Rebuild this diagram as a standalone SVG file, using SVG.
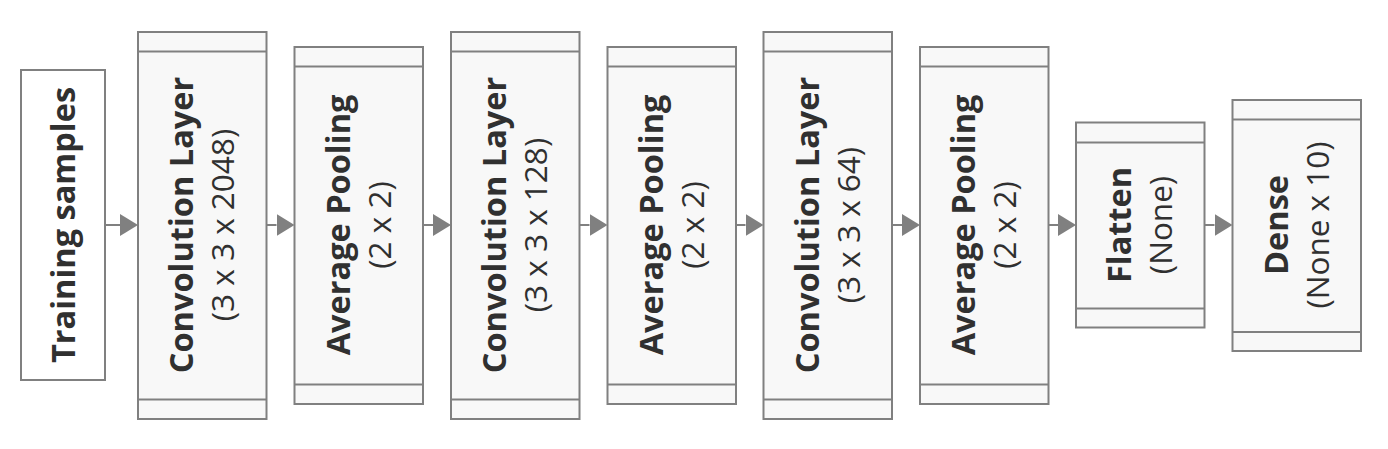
<svg xmlns="http://www.w3.org/2000/svg" width="1388" height="449" viewBox="0 0 1388 449">
<style>
.box{fill:#f8f8f8;stroke:#808080;stroke-width:2}
.plain{fill:#ffffff;stroke:#808080;stroke-width:2}
.sep{stroke:#808080;stroke-width:2;fill:none}
.conn{stroke:#808080;stroke-width:2;fill:none}
.b{font-family:"Open Sans","Noto Sans",sans-serif;font-weight:bold;font-size:32.5px;fill:#303030;text-anchor:middle}
.r{font-family:"Open Sans","Noto Sans",sans-serif;font-size:31.5px;fill:#303030;text-anchor:middle}
</style>
<defs>
<marker id="ah" markerUnits="userSpaceOnUse" markerWidth="18" markerHeight="22" viewBox="0 0 18 22" refX="0" refY="11" orient="auto">
<path d="M0,0 L18,11 L0,22 Z" fill="#808080"/>
</marker>
</defs>
<rect width="1388" height="449" fill="#ffffff"/>
<g id="connectors">
<path class="conn" d="M105,225 H120" marker-end="url(#ah)"/>
<path class="conn" d="M266.5,225 H276.5" marker-end="url(#ah)"/>
<path class="conn" d="M423,225 H433" marker-end="url(#ah)"/>
<path class="conn" d="M579.5,225 H589.5" marker-end="url(#ah)"/>
<path class="conn" d="M736,225 H745.5" marker-end="url(#ah)"/>
<path class="conn" d="M892,225 H902" marker-end="url(#ah)"/>
<path class="conn" d="M1048.5,225 H1058" marker-end="url(#ah)"/>
<path class="conn" d="M1204.5,225 H1214.5" marker-end="url(#ah)"/>
</g>
<g id="training">
<rect class="plain" x="21" y="70" width="84" height="310"/>
<text class="b" transform="translate(63,225) rotate(-90)" y="11.5">Training samples</text>
</g>
<g id="conv1">
<rect class="box" x="138" y="32" width="128.5" height="387"/>
<path class="sep" d="M138,51.5 H266.5 M138,399.5 H266.5"/>
<g transform="translate(202.3,225) rotate(-90)">
<text class="b" y="-9">Convolution Layer</text>
<text class="r" y="32">(3 x 3 x 2048)</text>
</g>
</g>
<g id="pool1">
<rect class="box" x="294.5" y="47" width="128.5" height="357"/>
<path class="sep" d="M294.5,66.5 H423 M294.5,384.5 H423"/>
<g transform="translate(358.8,225) rotate(-90)">
<text class="b" y="-9">Average Pooling</text>
<text class="r" y="32">(2 x 2)</text>
</g>
</g>
<g id="conv2">
<rect class="box" x="451" y="32" width="128.5" height="387"/>
<path class="sep" d="M451,51.5 H579.5 M451,399.5 H579.5"/>
<g transform="translate(515.3,225) rotate(-90)">
<text class="b" y="-9">Convolution Layer</text>
<text class="r" y="32">(3 x 3 x 128)</text>
</g>
</g>
<g id="pool2">
<rect class="box" x="607.5" y="47" width="128.5" height="357"/>
<path class="sep" d="M607.5,66.5 H736 M607.5,384.5 H736"/>
<g transform="translate(671.8,225) rotate(-90)">
<text class="b" y="-9">Average Pooling</text>
<text class="r" y="32">(2 x 2)</text>
</g>
</g>
<g id="conv3">
<rect class="box" x="763.5" y="32" width="128.5" height="387"/>
<path class="sep" d="M763.5,51.5 H892 M763.5,399.5 H892"/>
<g transform="translate(827.8,225) rotate(-90)">
<text class="b" y="-9">Convolution Layer</text>
<text class="r" y="32">(3 x 3 x 64)</text>
</g>
</g>
<g id="pool3">
<rect class="box" x="920" y="47" width="128.5" height="357"/>
<path class="sep" d="M920,66.5 H1048.5 M920,384.5 H1048.5"/>
<g transform="translate(984.3,225) rotate(-90)">
<text class="b" y="-9">Average Pooling</text>
<text class="r" y="32">(2 x 2)</text>
</g>
</g>
<g id="flatten">
<rect class="box" x="1076" y="122.5" width="128.5" height="205"/>
<path class="sep" d="M1076,142.5 H1204.5 M1076,308.5 H1204.5"/>
<g transform="translate(1140.3,225) rotate(-90)">
<text class="b" y="-9">Flatten</text>
<text class="r" y="32">(None)</text>
</g>
</g>
<g id="dense">
<rect class="box" x="1232.5" y="100" width="128.5" height="251"/>
<path class="sep" d="M1232.5,119.5 H1361 M1232.5,332 H1361"/>
<g transform="translate(1296.8,225) rotate(-90)">
<text class="b" y="-9">Dense</text>
<text class="r" y="32">(None x 10)</text>
</g>
</g>
</svg>
